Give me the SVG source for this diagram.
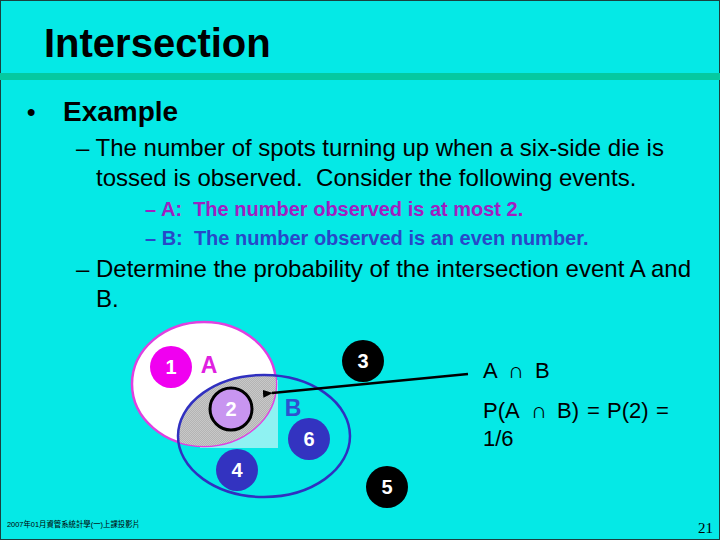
<svg xmlns="http://www.w3.org/2000/svg" width="720" height="540" viewBox="0 0 720 540">
<style>
.t{font-family:"Liberation Sans",Arial,sans-serif;fill:#000}
.b{font-weight:bold}
.num{font-family:"Liberation Sans",Arial,sans-serif;font-weight:bold;font-size:20px;fill:#fff;text-anchor:middle}
</style>
<defs>
<pattern id="chk" width="2" height="2" patternUnits="userSpaceOnUse">
<rect width="2" height="2" fill="#b4b4b4"/>
<rect width="1" height="1" fill="#c8c8c8"/>
<rect x="1" y="1" width="1" height="1" fill="#c8c8c8"/>
</pattern>
<clipPath id="clipB"><ellipse cx="264" cy="436" rx="86" ry="61"/></clipPath>
<marker id="arr" markerWidth="10" markerHeight="8" refX="1" refY="4" orient="auto" markerUnits="userSpaceOnUse">
<path d="M10,0 L0,4 L10,8 Z" fill="#000"/>
</marker>
</defs>
<rect x="0" y="0" width="720" height="540" fill="#05e9e6"/>
<rect x="0.5" y="0.5" width="719" height="539" fill="none" stroke="#1a4040" stroke-width="1"/>
<rect x="0" y="73" width="720" height="7" fill="#05c9a0"/>

<text class="t b" x="44" y="57" font-size="40">Intersection</text>
<text class="t b" x="27" y="120" font-size="24">•</text>
<text class="t b" x="63" y="121" font-size="28">Example</text>
<text class="t" x="76" y="156" font-size="24">– The number of spots turning up when a six-side die is</text>
<text class="t" x="96" y="186" font-size="24" style="white-space:pre">tossed is observed.  Consider the following events.</text>
<text class="t b" x="145" y="216" font-size="20" style="fill:#a020c0;white-space:pre">– A:  The number observed is at most 2.</text>
<text class="t b" x="145" y="245" font-size="20" style="fill:#2848c8;white-space:pre">– B:  The number observed is an even number.</text>
<text class="t" x="76" y="277" font-size="24">– Determine the probability of the intersection event A and</text>
<text class="t" x="96" y="307" font-size="24">B.</text>

<g id="venn-shading">
<rect x="200" y="380" width="78" height="68" fill="#8ff2f2"/>
</g>
<g id="setA">
<ellipse cx="204" cy="384" rx="72" ry="62" fill="#fff" stroke="#e040e0" stroke-width="2.5"/>
</g>
<g id="intersection">
<ellipse cx="204" cy="384" rx="72" ry="62" fill="url(#chk)" clip-path="url(#clipB)"/>
</g>
<g id="setB">
<ellipse cx="264" cy="436" rx="86" ry="61" fill="none" stroke="#3030c0" stroke-width="2.5"/>
</g>
<g id="n1"><circle cx="171" cy="367" r="21" fill="#f000f0"/><text class="num" x="171" y="374">1</text></g>
<g id="labelA"><text class="t b" x="209" y="373" font-size="23" text-anchor="middle" style="fill:#e020e0">A</text></g>
<g id="n2"><circle cx="231" cy="409" r="21" fill="#c895f0" stroke="#000" stroke-width="3"/><text class="num" x="231" y="416">2</text></g>
<g id="labelB"><text class="t b" x="293" y="416" font-size="23" text-anchor="middle" style="fill:#3050d0">B</text></g>
<g id="n6"><circle cx="309" cy="439" r="21" fill="#3333c0"/><text class="num" x="309" y="446">6</text></g>
<g id="n4"><circle cx="237" cy="470" r="21" fill="#3333c0"/><text class="num" x="237" y="477">4</text></g>
<g id="n3"><circle cx="363" cy="361" r="21" fill="#000"/><text class="num" x="363" y="368">3</text></g>
<g id="n5"><circle cx="387" cy="487" r="21" fill="#000"/><text class="num" x="387" y="494">5</text></g>

<g id="connectors">
<line x1="468" y1="374" x2="272" y2="393" stroke="#000" stroke-width="2.5" marker-end="url(#arr)"/>
</g>

<g id="formula">
<text class="t" x="483" y="378" font-size="22">A<tspan x="508">∩</tspan><tspan x="535">B</tspan></text>
<text class="t" x="483" y="418" font-size="22">P(A<tspan x="531">∩</tspan><tspan x="557">B)</tspan><tspan x="587">=</tspan><tspan x="607">P(2)</tspan><tspan x="656">=</tspan></text>
<text class="t" x="483" y="446" font-size="22">1/6</text>
</g>

<text x="7" y="527" font-size="8" textLength="133" lengthAdjust="spacingAndGlyphs" style="font-family:'Liberation Sans','Noto Sans CJK TC',sans-serif;fill:#000">2007年01月資管系統計學(一)上課投影片</text>
<text x="698" y="533" font-size="15" style="font-family:'Liberation Serif',serif;fill:#000">21</text>
</svg>
